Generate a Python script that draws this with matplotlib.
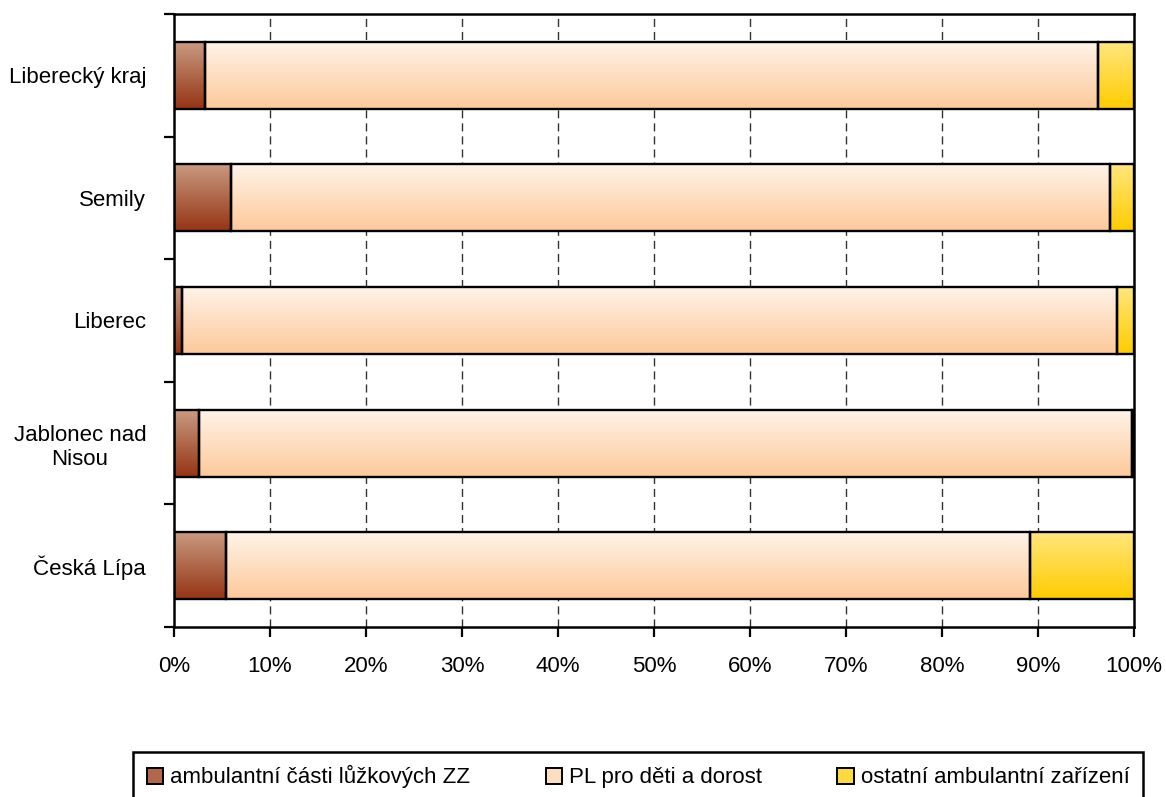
import matplotlib
matplotlib.use('Agg')
import matplotlib.pyplot as plt
import matplotlib.patches as mpatches
from matplotlib import font_manager
from matplotlib.colors import to_rgb
import numpy as np

# narrow font if it is there, otherwise plain Liberation Sans
names = set(f.name for f in font_manager.fontManager.ttflist)
if 'Liberation Sans Narrow' in names:
    plt.rcParams['font.family'] = ['Liberation Sans Narrow', 'DejaVu Sans']
    fsize = 20
else:
    plt.rcParams['font.family'] = ['Liberation Sans', 'DejaVu Sans']
    fsize = 16

# categories from bottom to top
categories = ['Česká Lípa', 'Jablonec nad\nNisou', 'Liberec', 'Semily', 'Liberecký kraj']
series_names = ['ambulantní části lůžkových ZZ', 'PL pro děti a dorost',
                'ostatní ambulantní zařízení']
ambul_zz = [5.4, 2.6, 0.8, 5.9, 3.2]
pl_deti = [83.8, 97.2, 97.4, 91.6, 93.0]
ostatni = [10.8, 0.2, 1.8, 2.5, 3.8]

# gradient colours (top, bottom)
grads = [('#C99A80', '#963414'),
         ('#FFF3E8', '#FDC99A'),
         ('#FFE67C', '#FFCC00')]

fig = plt.figure(figsize=(11.66, 7.97), dpi=100)
ax = fig.add_axes([174/1166, 1-627/797, 960/1166, 613/797])

series = [ambul_zz, pl_deti, ostatni]
ypos = np.arange(len(categories))
bar_h = 0.545
left = np.zeros(len(categories))

for s, vals in enumerate(series):
    vals = np.array(vals, dtype=float)
    top_c = np.array(to_rgb(grads[s][0]))
    bot_c = np.array(to_rgb(grads[s][1]))
    t = np.linspace(0, 1, 100)[:, None]
    grad = (top_c[None, :] * (1 - t) + bot_c[None, :] * t)[:, None, :]
    bars = ax.barh(ypos, vals, left=left, height=bar_h, facecolor='none',
                   edgecolor='black', linewidth=1.7, zorder=4)
    for b in bars:
        x0, y0 = b.get_x(), b.get_y()
        im = ax.imshow(grad, extent=(x0, x0 + b.get_width(), y0, y0 + b.get_height()),
                       aspect='auto', origin='upper', zorder=3, interpolation='bilinear')
        im.set_clip_path(b)
    left = left + vals

ax.set_xlim(0, 100)
ax.set_ylim(-0.5, len(categories) - 0.5)

# grid
for x in range(10, 100, 10):
    ax.axvline(x, color='#333333', linewidth=1.0, dashes=(5.8, 3.6), zorder=1)

ax.set_xticks(range(0, 101, 10))
ax.set_xticklabels(['{}%'.format(v) for v in range(0, 101, 10)], fontsize=fsize)
ax.tick_params(axis='x', direction='out', length=7, width=1.6, pad=14)

ax.set_yticks(ypos)
ax.set_yticklabels(categories, fontsize=fsize)
for lab in ax.get_yticklabels():
    lab.set_multialignment('center')
ax.tick_params(axis='y', which='major', length=0, pad=20)
ax.set_yticks(np.arange(-0.5, len(categories), 1.0), minor=True)
ax.tick_params(axis='y', which='minor', direction='out', length=7, width=1.6)

for sp in ax.spines.values():
    sp.set_linewidth(1.8)
    sp.set_color('black')
    sp.set_zorder(5)

handles = [mpatches.Patch(facecolor=np.mean([to_rgb(g[0]), to_rgb(g[1])], axis=0),
                          edgecolor='black', linewidth=1.4) for g in grads]
leg = fig.legend(handles, series_names, loc='upper center',
                 bbox_to_anchor=(638/1166, 1-752/797), ncol=3, fontsize=fsize,
                 frameon=True, fancybox=False, edgecolor='black', framealpha=1,
                 handlelength=0.75, handleheight=0.75, handletextpad=0.3,
                 columnspacing=3.4, borderpad=0.6, borderaxespad=0)
leg.get_frame().set_linewidth(1.8)

fig.savefig('out.png', dpi=100)
